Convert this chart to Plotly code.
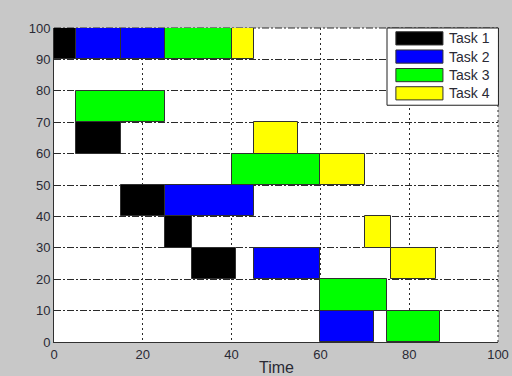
import plotly.graph_objects as go

# Gantt data: row centre (machine slot), start, end for each task
task_names = ["Task 1", "Task 2", "Task 3", "Task 4"]
task_colors = ["#000000", "#0000ff", "#00ff00", "#ffff00"]

t1_rows = [95, 65, 45, 35, 25]
t1_start = [0, 5, 15, 25, 31]
t1_end = [5, 15, 25, 31, 41]

t2_rows = [95, 95, 45, 25, 5]
t2_start = [5, 15, 25, 45, 60]
t2_end = [15, 25, 45, 60, 72]

t3_rows = [95, 75, 55, 15, 5]
t3_start = [25, 5, 40, 60, 75]
t3_end = [40, 25, 60, 75, 87]

t4_rows = [95, 65, 55, 35, 25]
t4_start = [40, 45, 60, 70, 76]
t4_end = [45, 55, 70, 76, 86]

x_ticks = [0, 20, 40, 60, 80, 100]
y_ticks = [0, 10, 20, 30, 40, 50, 60, 70, 80, 90, 100]
x_label = "Time"

tasks = [
    (t1_rows, t1_start, t1_end),
    (t2_rows, t2_start, t2_end),
    (t3_rows, t3_start, t3_end),
    (t4_rows, t4_start, t4_end),
]

fig = go.Figure()
for name, color, (rows, st, en) in zip(task_names, task_colors, tasks):
    fig.add_trace(go.Bar(
        orientation="h",
        y=rows,
        base=st,
        x=[e - s for s, e in zip(st, en)],
        width=10,
        name=name,
        marker=dict(color=color, line=dict(color="#303030", width=1)),
        showlegend=False,
    ))

font_family = "Liberation Sans, Arial, sans-serif"
xdash = "2px,3px"
ydash = "7px,2px,2px,2px"

fig.update_layout(
    width=512, height=376,
    margin=dict(l=54, r=14, t=28, b=34, autoexpand=False),
    paper_bgcolor="#c8c8c8",
    plot_bgcolor="#ffffff",
    barmode="overlay",
    bargap=0,
    font=dict(family=font_family, size=13, color="#2a2a35"),
    xaxis=dict(
        range=[0, 100], tickvals=x_ticks, showgrid=True, automargin=False,
        gridcolor="#2a2a2a", gridwidth=1, griddash=xdash,
        showline=True, linecolor="#303030", linewidth=1,
        zeroline=False, ticks="", tickfont=dict(size=13),
    ),
    yaxis=dict(
        range=[0, 100], tickvals=y_ticks, showgrid=True, automargin=False,
        gridcolor="#2a2a2a", gridwidth=1, griddash=ydash,
        showline=True, linecolor="#303030", linewidth=1,
        zeroline=False, ticks="", tickfont=dict(size=13),
    ),
)

# Top and right edge grid lines (MATLAB box off look)
shapes = [
    dict(type="line", xref="paper", yref="paper", x0=0, x1=1, y0=1, y1=1,
         line=dict(color="#2a2a2a", width=1, dash=ydash), layer="below"),
    dict(type="line", xref="paper", yref="paper", x0=1, x1=1, y0=0, y1=1,
         line=dict(color="#2a2a2a", width=1, dash=xdash), layer="below"),
]

ann = [dict(xref="paper", yref="paper", x=0.5, y=-0.080, text=x_label,
            showarrow=False, xanchor="center", yanchor="middle",
            font=dict(size=16, color="#2a2a35", family=font_family))]

# Legend drawn as a boxed key (paper coordinates)
shapes.append(dict(type="rect", xref="paper", yref="paper",
                   x0=0.75, x1=1.001, y0=0.754, y1=1.0,
                   fillcolor="#ffffff", line=dict(color="#202020", width=1), layer="above"))
ycent = [0.967, 0.909, 0.850, 0.792]
for name, color, yc in zip(task_names, task_colors, ycent):
    shapes.append(dict(type="rect", xref="paper", yref="paper",
                       x0=0.770, x1=0.876, y0=yc - 0.021, y1=yc + 0.021,
                       fillcolor=color, line=dict(color="#303030", width=1), layer="above"))
    ann.append(dict(xref="paper", yref="paper", x=0.886, y=yc, text=name,
                    showarrow=False, xanchor="left", yanchor="middle",
                    font=dict(size=14, color="#2a2a35", family=font_family)))
fig.update_layout(shapes=shapes, annotations=ann)

fig.write_html("out.html", config={"displayModeBar": False},
               post_script="document.body.style.margin='0px';document.body.style.overflow='hidden';")
